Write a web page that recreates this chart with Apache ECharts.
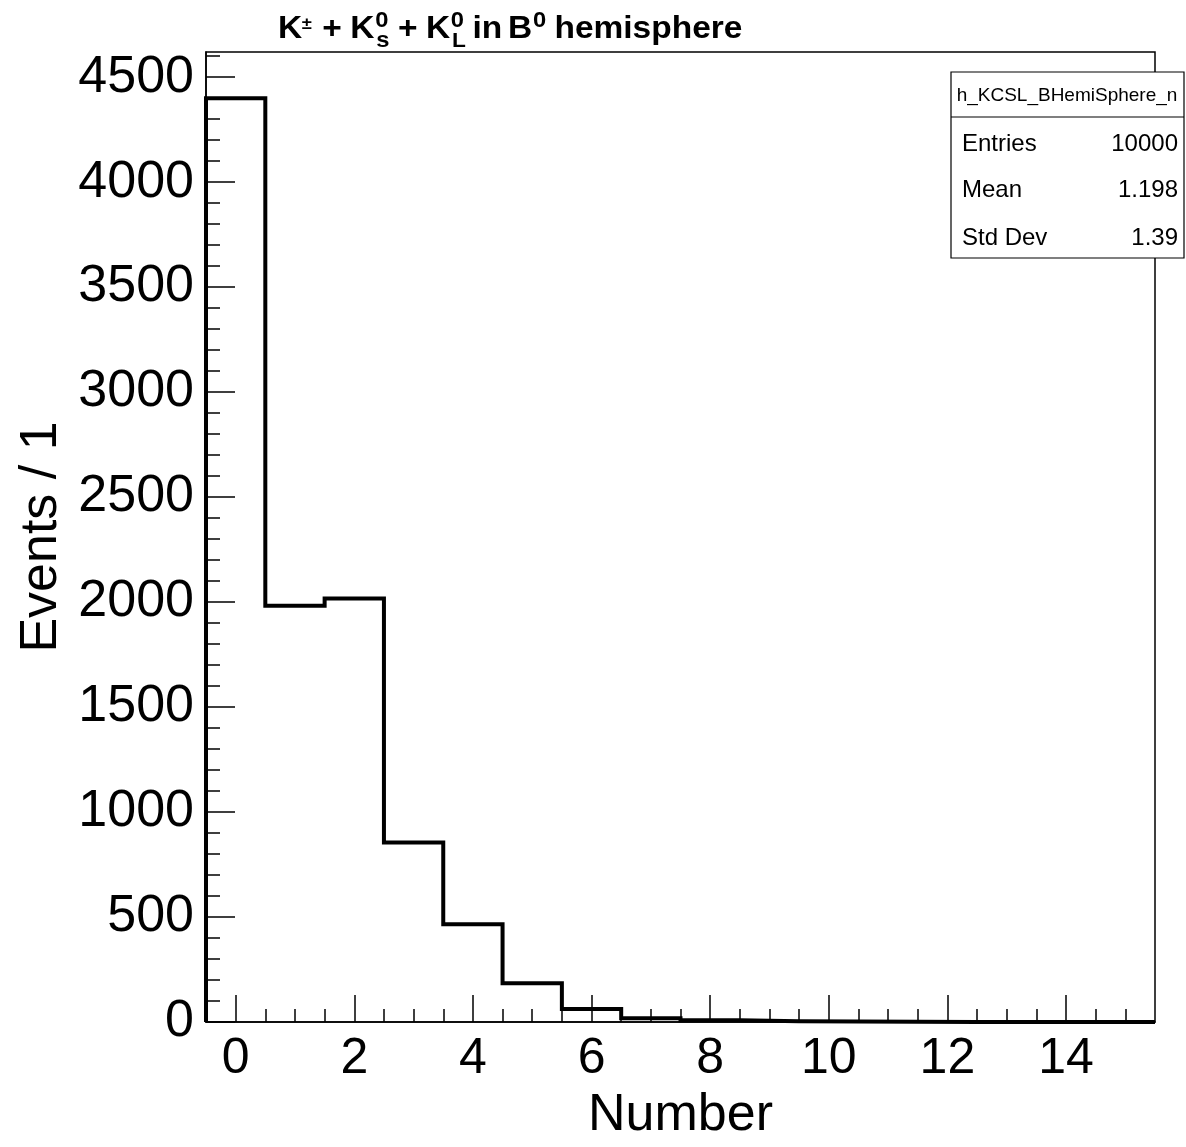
<!DOCTYPE html>
<html>
<head>
<meta charset="utf-8">
<script src="https://cdn.jsdelivr.net/npm/echarts@6/dist/echarts.min.js"></script>
<style>
html,body{margin:0;padding:0;background:#fff;}
#c{width:1186px;height:1147px;}
</style>
</head>
<body>
<div id="c"></div>
<script>
// ---- data ----
var binCenters = [0,1,2,3,4,5,6,7,8,9,10,11,12,13,14,15];
var counts = [4400,1983,2017,855,465,185,62,18,8,4,2,1,0,0,0,0];
var xMajorTicks = [0,2,4,6,8,10,12,14];
var xMinorTicks = [0.5,1,1.5,2.5,3,3.5,4.5,5,5.5,6.5,7,7.5,8.5,9,9.5,10.5,11,11.5,12.5,13,13.5,14.5,15];
var yMajorTicks = [0,500,1000,1500,2000,2500,3000,3500,4000,4500];
var yMinorTicks = [];
for (var t = 100; t <= 4600; t += 100) { if (t % 500 !== 0) yMinorTicks.push(t); }
var statsName = 'h_KCSL_BHemiSphere_n';
var statsLabels = ['Entries','Mean','Std Dev'];
var statsValues = ['10000','1.198','1.39'];

// step outline built from bins
var stepData = [[binCenters[0] - 0.5, 0]];
for (var i = 0; i < binCenters.length; i++) {
  stepData.push([binCenters[i] - 0.5, counts[i]]);
  stepData.push([binCenters[i] + 0.5, counts[i]]);
}
stepData.push([binCenters[binCenters.length - 1] + 0.5, 0]);

var FONT = '"Liberation Sans", Arial, Helvetica, sans-serif';
var chart = echarts.init(document.getElementById('c'), null, {renderer: 'canvas'});

function titleText(x, y, s, fs) {
  return {type: 'text', x: x, y: y, style: {text: s, font: 'bold ' + fs + 'px ' + FONT, fill: '#000', textAlign: 'left', verticalAlign: 'middle'}};
}

var statsGraphics = [
  {type: 'rect', shape: {x: 951, y: 72, width: 233, height: 186}, style: {fill: '#fff', stroke: '#000', lineWidth: 1.2}, z: 100},
  {type: 'line', shape: {x1: 951, y1: 117, x2: 1184, y2: 117}, style: {stroke: '#000', lineWidth: 1.2}, z: 101},
  {type: 'text', x: 1067, y: 96, style: {text: statsName, font: '19px ' + FONT, fill: '#000', textAlign: 'center', verticalAlign: 'middle'}, z: 101}
];
var rowY = [144, 190, 238];
for (var k = 0; k < statsLabels.length; k++) {
  statsGraphics.push({type: 'text', x: 962, y: rowY[k], style: {text: statsLabels[k], font: '24px ' + FONT, fill: '#000', textAlign: 'left', verticalAlign: 'middle'}, z: 101});
  statsGraphics.push({type: 'text', x: 1178, y: rowY[k], style: {text: statsValues[k], font: '24px ' + FONT, fill: '#000', textAlign: 'right', verticalAlign: 'middle'}, z: 101});
}

var titleGroup = {
  type: 'group', x: 278, y: 0, scaleX: 1.08,
  children: [
    titleText(0, 29, 'K', 31),
    titleText(22, 24, '\u00B1', 17),
    titleText(41, 29, '+', 31),
    titleText(67, 29, 'K', 31),
    titleText(90, 21, '0', 22),
    titleText(91, 41, 's', 22),
    titleText(111, 29, '+', 31),
    titleText(137, 29, 'K', 31),
    titleText(160, 21, '0', 22),
    titleText(161, 41, 'L', 21),
    titleText(180, 29, 'in', 31),
    titleText(213, 29, 'B', 31),
    titleText(236, 21, '0', 22),
    titleText(256, 29, 'hemisphere', 31)
  ]
};

var option = {
  animation: false,
  backgroundColor: '#fff',
  textStyle: {fontFamily: FONT},
  grid: {left: 206, right: 31, top: 52, bottom: 122, show: true, borderColor: '#000', borderWidth: 1.5, backgroundColor: 'transparent', containLabel: false},
  xAxis: [
    {
      type: 'value', min: -0.5, max: 15.5, position: 'bottom',
      name: 'Number', nameLocation: 'middle', nameGap: 68,
      nameTextStyle: {fontSize: 52, color: '#000', fontFamily: FONT},
      axisLine: {show: true, onZero: false, lineStyle: {color: '#000', width: 1.5}},
      axisTick: {show: true, inside: true, length: 27, lineStyle: {color: '#000', width: 1.5}, customValues: xMajorTicks},
      axisLabel: {show: true, fontSize: 50, color: '#000', margin: 12, fontFamily: FONT, customValues: xMajorTicks, formatter: function (v) { return String(v); }},
      splitLine: {show: false}
    },
    {
      type: 'value', min: -0.5, max: 15.5, position: 'bottom',
      axisLine: {show: false, onZero: false},
      axisTick: {show: true, inside: true, length: 13, lineStyle: {color: '#000', width: 1.5}, customValues: xMinorTicks},
      axisLabel: {show: false},
      splitLine: {show: false}
    }
  ],
  yAxis: [
    {
      type: 'value', min: 0, max: 4620, position: 'left',
      name: 'Events / 1', nameLocation: 'middle', nameGap: 134, nameRotate: 90,
      nameTextStyle: {fontSize: 52, color: '#000', fontFamily: FONT},
      axisLine: {show: true, onZero: false, lineStyle: {color: '#000', width: 1.5}},
      axisTick: {show: true, inside: true, length: 29, lineStyle: {color: '#000', width: 1.5}, customValues: yMajorTicks},
      axisLabel: {show: true, fontSize: 52, color: '#000', margin: 12, fontFamily: FONT, customValues: yMajorTicks, formatter: function (v) { return String(v); }},
      splitLine: {show: false}
    },
    {
      type: 'value', min: 0, max: 4620, position: 'left',
      axisLine: {show: false, onZero: false},
      axisTick: {show: true, inside: true, length: 14, lineStyle: {color: '#000', width: 1.5}, customValues: yMinorTicks},
      axisLabel: {show: false},
      splitLine: {show: false}
    }
  ],
  series: [{
    type: 'line', xAxisIndex: 0, yAxisIndex: 0,
    data: stepData, symbol: 'none', clip: true,
    lineStyle: {color: '#000', width: 4, join: 'miter'},
    z: 10
  }],
  graphic: [titleGroup].concat(statsGraphics)
};
chart.setOption(option);
</script>
</body>
</html>
